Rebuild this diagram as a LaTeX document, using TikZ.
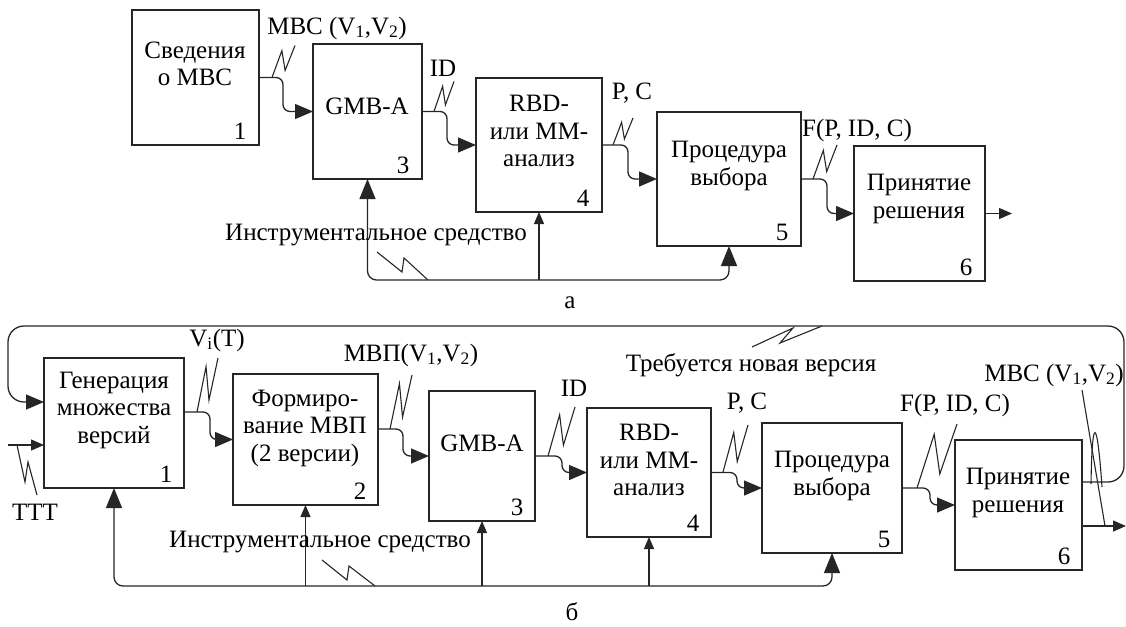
\documentclass[tikz,border=0pt]{standalone}
\usepackage{fontspec}
\setmainfont{Liberation Serif}
\usepackage{tikz}
\usetikzlibrary{arrows.meta,calc}
\tikzset{
  blok/.style={draw=black!85,line width=1.3pt,inner sep=0pt,outer sep=0pt},
  txt/.style={align=center,font=\fontsize{25}{27.5}\selectfont,inner sep=0pt},
  numlbl/.style={font=\fontsize{25}{27}\selectfont,inner sep=0pt},
  flow/.style={-{Triangle[length=18pt,width=15pt]},line width=1.3pt,draw=black!85,rounded corners=7pt},
  feed/.style={-{Triangle[length=20pt,width=16pt]},line width=1.3pt,draw=black!85,rounded corners=9pt},
  feedsmall/.style={-{Triangle[length=12pt,width=10pt]},line width=1.3pt,draw=black!85},
  outarr/.style={-{Triangle[length=13pt,width=11pt]},line width=1.3pt,draw=black!85},
  lead/.style={line width=1.1pt,draw=black!85}
}
% N-shaped lead from a connector to its label
\newcommand{\bolt}[3]{%
  \draw[lead] #1 -- ++({0.43*#2},{0.84*#3}) -- ++({0.14*#2},{-0.62*#3})
    -- ++({0.43*#2},{0.78*#3});}

\begin{document}
\begin{tikzpicture}[x=1pt,y=-1pt]
  \useasboundingbox (0,0) rectangle (1126,626);

  % --- (a) ---
  \foreach \nm/\cx/\cy/\w/\h/\num in {A1/195.5/77.5/127/135/1,A3/367.5/111.5/109/135/3,
      A4/539/145/126/134/4,A5/729/179/144/134/5,A6/919.5/213.5/131/135/6} {
    \node[blok, minimum width=\w pt, minimum height=\h pt] (\nm) at (\cx,\cy) {};
    \node[numlbl] at ([xshift=-19pt,yshift=14pt]\nm.south east) {\num};
  }
  \node[txt] (tA1) at (195,64) {Сведения\\о МВС};
  \node[txt] (tA3) at (367,106) {GMB-A};
  \node[txt] (tA4) at (539,131) {RBD-\\или ММ-\\анализ};
  \node[txt] (tA5) at (729,166) {Процедура\\выбора};
  \node[txt] (tA6) at (919,199) {Принятие\\решения};

  \draw[flow] (A1.east) -- ++(24,0) |- (A3.west);
  \draw[flow] (A3.east) -- ++(25,0) |- (A4.west);
  \draw[flow] (A4.east) -- ++(26,0) |- (A5.west);
  \draw[flow] (A5.east) -- ++(26,0) |- (A6.west);
  \draw[outarr] (A6.east) -- ++(27,0);

  \node[txt] (lA1) at (337,28) {МВС (V\textsubscript{1},V\textsubscript{2})};
  \node[txt] (lA3) at (443,68) {ID};
  \node[txt] (lA4) at (632,93) {P, C};
  \node[txt] (lA5) at (857,130) {F(P, ID, C)};
  \bolt{(272,77.5)}{23}{-32}
  \bolt{(434,111.5)}{20}{-30}
  \bolt{(613,145)}{20}{-27}
  \bolt{(813,179)}{24}{-34}

  \coordinate (busA) at (A4.south |- 0,280);
  \draw[feed] (busA) -| (A3.south);
  \draw[feed] (busA) -| (A5.south);
  \draw[feedsmall] (busA) -- (A4.south);
  \node[txt] (toolA) at (376,235) {Инструментальное средство};
  \draw[lead] (377,252) -- (402,272) -- (404,258) -- (428,280);

  \node[txt] (capA) at (570,303) {а};

  % --- (b) ---
  \foreach \nm/\cx/\cy/\w/\h/\num in {B1/114/423/140/130/1,B2/305.5/439.5/145/131/2,
      B3/482/456/106/130/3,B4/649/472.5/124/129/4,B5/832/488/140/130/5,
      B6/1018.5/505/127/130/6} {
    \node[blok, minimum width=\w pt, minimum height=\h pt] (\nm) at (\cx,\cy) {};
    \node[numlbl] at ([xshift=-18pt,yshift=14pt]\nm.south east) {\num};
  }
  \node[txt] (tB1) at (114,410) {Генерация\\множества\\версий};
  \node[txt] (tB2) at (305,428) {Формиро-\\вание МВП\\(2 версии)};
  \node[txt] (tB3) at (482,443) {GMB-A};
  \node[txt] (tB4) at (649,460) {RBD-\\или ММ-\\анализ};
  \node[txt] (tB5) at (832,476) {Процедура\\выбора};
  \node[txt] (tB6) at (1018,493) {Принятие\\решения};

  \draw[flow] ([yshift=11pt]B1.east) -- ++(26,0) |- (B2.west);
  \draw[flow] ([yshift=10.5pt]B2.east) -- ++(25,0) |- (B3.west);
  \draw[flow] (B3.east) -- ++(27,0) |- (B4.west);
  \draw[flow] (B4.east) -- ++(26,0) |- (B5.west);
  \draw[flow] (B5.east) -- ++(28,0) |- (B6.west);

  \node[txt] (lB1) at (217,340) {V\textsubscript{i}(T)};
  \node[txt] (lB2) at (411,355) {МВП(V\textsubscript{1},V\textsubscript{2})};
  \node[txt] (lB3) at (574,388) {ID};
  \node[txt] (lB4) at (747,403) {P, C};
  \node[txt] (lB5) at (955,405) {F(P, ID, C)};
  \node[txt] (lB6) at (1054,375) {МВС (V\textsubscript{1},V\textsubscript{2})};
  \bolt{(197,412)}{21}{-54}
  \bolt{(390,429)}{22}{-54}
  \bolt{(548,456)}{27}{-49}
  \bolt{(723,472)}{25}{-47}
  \bolt{(917,488)}{40}{-64}

  % new-version loop and outputs of block 6
  \coordinate (loopR) at (1124,482);
  \coordinate (loopL) at (8,402);
  \draw[flow, rounded corners=16pt] ([yshift=23pt]B6.east) -- (loopR) -- (loopR |- 0,326)
    -- (loopL |- 0,326) -- (loopL) -- ([yshift=21pt]B1.west);
  \draw[outarr] ([yshift=-21pt]B6.east) -- (1126,526);
  \draw[lead] (1082,390) -- (1105,526);
  \draw[lead] (1091,484) .. controls (1092,415) and (1097,415) .. (1102,487);
  \node[txt] (newV) at (751,365) {Требуется новая версия};
  \draw[lead] (752,347) -- (793,328) -- (780,343) -- (822,326);

  % TTT input
  \coordinate (tttIn) at (8,445);
  \draw[outarr] (tttIn) -- ([yshift=-22pt]B1.west);
  \draw[lead] (17,445) -- (25,482) -- (28,462) -- (37,495);
  \node[txt] (ttt) at (35,512) {ТТТ};

  \coordinate (busB) at (B3.south |- 0,586);
  \draw[feed] (busB) -| (B1.south);
  \draw[feed] (busB) -| (B5.south);
  \foreach \b in {B2,B3,B4} \draw[feedsmall] (\b.south |- busB) -- (\b.south);
  \node[txt] (toolB) at (320,542) {Инструментальное средство};
  \draw[lead] (322,560) -- (347,580) -- (349,566) -- (375,586);

  \node[txt] (capB) at (572,612) {б};
\end{tikzpicture}
\end{document}
